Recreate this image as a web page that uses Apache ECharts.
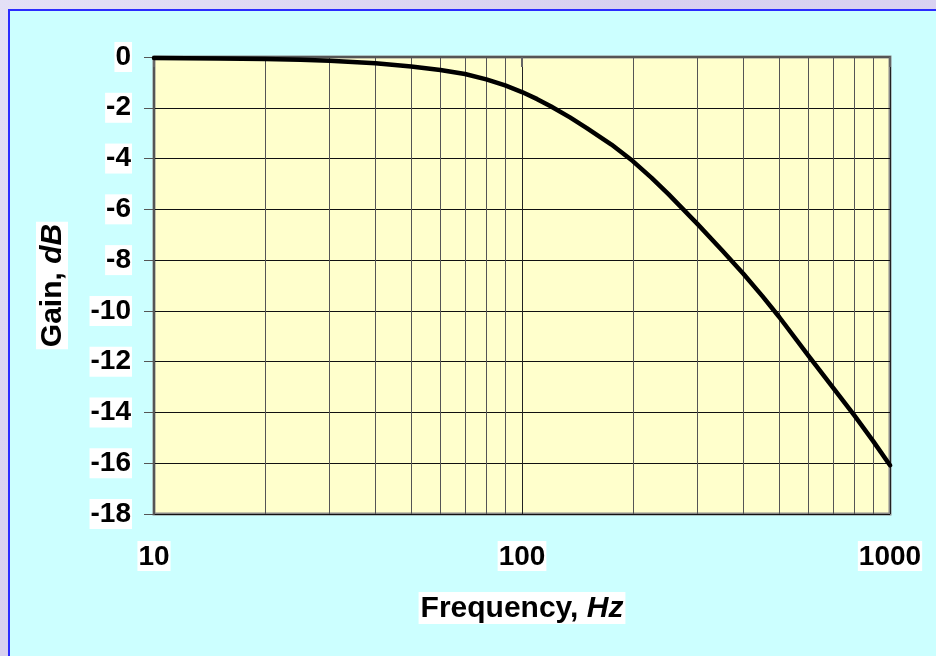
<!DOCTYPE html>
<html>
<head>
<meta charset="utf-8">
<title>Gain vs Frequency</title>
<script src="https://cdn.jsdelivr.net/npm/echarts@6/dist/echarts.min.js"></script>
<style>
  html, body { margin: 0; padding: 0; }
  body {
    width: 936px; height: 656px; overflow: hidden; position: relative;
    background: linear-gradient(135deg, #e4e0f6 0%, #d8d0f0 40%, #dcd6f4 100%);
  }
  /* light cyan panel with the blue edge */
  .panel {
    position: absolute; left: 8px; top: 9px; width: 940px; height: 660px;
    background: #ccffff; border-left: 2px solid #2b2bff; border-top: 2px solid #2b2bff;
  }
  #chart { position: absolute; left: 0; top: 0; width: 936px; height: 656px; }
</style>
</head>
<body>
<div class="panel"></div>
<div id="chart"></div>
<script>
// frequency points (Hz) and gain (dB)
var freqs = [10, 15, 20, 25, 30, 40, 50, 60, 70, 80, 90, 100, 110, 120, 135, 150, 175, 200, 225, 250, 300, 350, 400, 450, 500, 600, 700, 800, 900, 1000];
var gains = [-0.04, -0.06, -0.08, -0.11, -0.15, -0.25, -0.37, -0.51, -0.67, -0.88, -1.12, -1.38, -1.66, -1.95, -2.38, -2.8, -3.45, -4.1, -4.76, -5.4, -6.58, -7.62, -8.55, -9.42, -10.24, -11.76, -13.02, -14.12, -15.13, -16.08];
var yTicks = { min: -18, max: 0, step: 2 };

var font = 'Liberation Sans, Arial, sans-serif';

var chart = echarts.init(document.getElementById('chart'));

var points = freqs.map(function (f, i) { return [f, gains[i]]; });

var nameRich = {
  a: { fontFamily: font, fontWeight: 'bold', fontSize: 30, color: '#000' },
  b: { fontFamily: font, fontWeight: 'bold', fontStyle: 'italic', fontSize: 30, color: '#000' }
};

var option = {
  backgroundColor: 'transparent',
  animation: false,
  grid: {
    left: 154, right: 46, top: 57, bottom: 142,
    show: true,
    backgroundColor: '#ffffcc',
    borderColor: '#8a8a8a',
    borderWidth: 3
  },
  xAxis: {
    type: 'log',
    logBase: 10,
    min: 10,
    max: 1000,
    name: '{a|Frequency, }{b|Hz}',
    nameLocation: 'middle',
    nameGap: 78,
    nameTextStyle: {
      backgroundColor: '#fff',
      padding: [2, 2, 0, 2],
      rich: nameRich
    },
    axisLine: { lineStyle: { color: '#555', width: 2 } },
    axisTick: { show: true, inside: false, length: 10, lineStyle: { color: '#666', width: 2 } },
    axisLabel: {
      margin: 27,
      formatter: function (v) { return String(v); },
      fontFamily: font, fontWeight: 'bold', fontSize: 28, color: '#000',
      backgroundColor: '#fff', padding: [2, 1, 0, 1]
    },
    splitLine: { show: true, lineStyle: { color: '#222', width: 1 } },
    minorTick: { show: false, splitNumber: 9 },
    minorSplitLine: { show: true, lineStyle: { color: '#555', width: 1 } }
  },
  yAxis: {
    type: 'value',
    min: yTicks.min,
    max: yTicks.max,
    interval: yTicks.step,
    name: '{a|Gain, }{b|dB}',
    nameLocation: 'middle',
    nameGap: 86,
    nameTextStyle: {
      backgroundColor: '#fff',
      padding: [2, 2, 0, 2],
      rich: nameRich
    },
    axisLine: { show: true, lineStyle: { color: '#555', width: 2 } },
    axisTick: { show: true, inside: false, length: 10, lineStyle: { color: '#555', width: 1 } },
    axisLabel: {
      margin: 22,
      fontFamily: font, fontWeight: 'bold', fontSize: 28, color: '#000',
      backgroundColor: '#fff', padding: [2, 1, 0, 1]
    },
    splitLine: { show: true, lineStyle: { color: '#111', width: 1 } }
  },
  series: [
    {
      type: 'line',
      data: points,
      smooth: false,
      symbol: 'none',
      lineStyle: { color: '#000', width: 4.5, join: 'round', cap: 'round' },
      z: 5
    }
  ]
};

chart.setOption(option);
</script>
</body>
</html>
